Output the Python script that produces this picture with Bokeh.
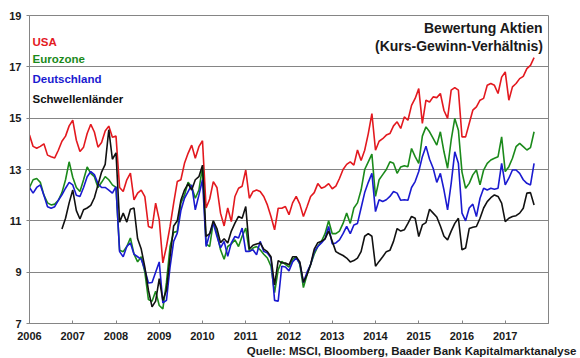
import numpy as np
import pandas as pd
from bokeh.plotting import figure
from bokeh.models import FixedTicker, Label, Title, Range1d
from bokeh.embed import file_html
from bokeh.resources import INLINE

# ---------------- data (monthly P/E ratios, Jan 2006 - Sep 2017) ----------------
months = pd.date_range("2006-01-01", "2017-09-01", freq="MS")

usa = [14.34, 13.9, 13.83, 13.9, 14.0, 13.56, 13.5, 13.45, 13.75, 14.1, 14.3, 14.7,
       14.92, 14.14, 13.7, 13.87, 14.4, 14.76, 14.46, 13.87, 14.05, 14.5, 14.69, 14.26,
       14.3, 12.3, 12.14, 12.6, 12.86, 11.82, 12.08, 12.2, 11.94, 10.78, 10.72, 11.69,
       11.04, 9.36, 10.0, 10.78, 11.69, 12.53, 12.6, 13.24, 13.63, 13.95, 13.44, 13.89,
       14.12, 11.5, 11.85, 12.53, 12.3, 11.3, 10.8, 11.5, 10.97, 11.95, 12.27, 12.35,
       12.98, 11.88, 12.14, 12.2, 12.14, 11.95, 11.62, 11.17, 10.65, 11.49, 11.49, 11.56,
       11.24, 11.7, 11.95, 11.65, 11.17, 11.55, 11.95, 12.1, 12.45, 12.27, 12.33, 12.45,
       12.25, 12.35, 12.65, 13.0, 13.2, 13.3, 13.17, 13.76, 13.35, 13.75, 14.4, 15.18,
       13.75, 14.1, 14.2, 14.34, 14.4, 14.7, 14.86, 14.6, 15.05, 14.92, 15.5, 15.77,
       16.15, 14.8, 15.7, 15.63, 15.83, 15.8, 15.96, 15.3, 14.99, 16.09, 16.19, 16.09,
       14.27, 14.27, 14.79, 15.31, 15.44, 15.70, 15.77, 16.28, 16.35, 16.28, 15.96, 16.6,
       16.8, 15.7, 16.22, 16.35, 16.54, 16.63, 16.93, 17.06, 17.36]

eurozone = [12.3, 12.6, 12.65, 12.5, 12.0, 11.7, 11.62, 11.65, 11.8, 12.1, 12.6, 13.3,
            12.7, 12.3, 12.14, 12.6, 13.1, 12.85, 12.72, 12.3, 12.5, 12.72, 12.6, 12.4,
            12.3, 9.85, 9.8, 10.0, 10.33, 9.7, 9.4, 9.6, 9.0, 7.93, 7.87, 8.26,
            7.7, 7.57, 8.6, 10.0, 10.55, 10.59, 11.7, 12.0, 12.5, 12.33, 11.88, 12.2,
            13.1, 10.1, 10.0, 10.97, 10.5, 9.87, 9.5, 10.0, 10.1, 10.26, 10.0, 10.4,
            10.72, 9.81, 9.94, 10.0, 9.87, 9.7, 9.55, 9.23, 8.2, 9.1, 9.42, 9.3,
            9.2, 9.5, 9.6, 9.3, 8.4, 8.9, 9.3, 9.7, 10.0, 10.2, 10.5, 11.0,
            10.5, 10.5, 10.6, 10.9, 11.3, 10.9, 11.5, 11.7, 12.2, 13.0, 13.3, 13.6,
            11.95, 12.6, 12.8, 13.0, 13.3, 13.24, 12.85, 13.1, 13.15, 13.11, 13.82, 13.5,
            13.24, 14.3, 14.66, 14.47, 14.21, 13.95, 14.47, 13.69, 13.05, 14.15, 14.99, 14.53,
            12.9, 12.27, 12.46, 12.79, 12.98, 12.4, 12.98, 13.24, 13.37, 13.44, 13.5, 14.27,
            12.92, 13.11, 13.44, 13.89, 14.02, 13.89, 13.76, 13.85, 14.47]

deutschland = [12.3, 12.08, 12.3, 12.4, 12.0, 11.55, 11.49, 11.55, 11.8, 12.01, 12.27, 12.5,
               12.4, 12.0, 11.95, 12.3, 12.72, 12.92, 12.8, 12.45, 12.3, 12.3, 12.2, 12.08,
               12.33, 9.8, 9.6, 10.0, 10.14, 9.7, 9.6, 9.5, 9.1, 8.58, 8.6, 9.0,
               9.4, 7.8, 7.9, 9.2, 10.2, 10.52, 11.4, 11.88, 12.14, 12.4, 11.43, 12.0,
               12.6, 10.0, 10.5, 10.91, 10.4, 9.95, 10.2, 9.62, 10.14, 10.39, 10.33, 10.72,
               9.81, 9.81, 9.87, 9.68, 10.2, 9.81, 9.75, 9.55, 7.9, 7.87, 9.23, 9.2,
               9.05, 9.4, 9.55, 9.35, 8.6, 9.0, 9.3, 9.8, 10.0, 10.14, 10.3, 10.78,
               10.1, 10.14, 10.26, 10.5, 10.78, 10.5, 10.84, 10.9, 11.5, 12.1, 12.5, 12.85,
               11.36, 11.82, 11.75, 11.82, 11.95, 12.14, 12.08, 11.8, 11.82, 11.8, 12.3, 12.53,
               12.92, 13.5, 13.91, 13.4, 13.05, 12.5, 12.85, 12.2, 11.43, 12.46, 13.69, 13.24,
               11.3, 11.0, 11.5, 11.65, 11.17, 11.88, 12.27, 12.2, 12.27, 12.23, 12.27, 13.24,
               12.4, 12.66, 12.98, 12.98, 12.85, 12.6, 12.46, 12.4, 13.24]

# Emerging markets series starts in October 2006
schwellen_start = 9
schwellen = [10.68, 11.1, 11.7,
             12.2, 11.4, 11.07, 11.43, 11.5, 11.6, 11.9, 12.4, 12.9, 13.2, 14.55, 13.4,
             13.65, 10.95, 11.3, 10.95, 11.45, 11.5, 10.3, 9.9, 9.2, 8.3, 7.65, 7.87,
             8.75, 7.9, 8.3, 9.6, 10.8, 11.0, 11.8, 12.2, 12.45, 12.2, 12.6, 12.72,
             13.17, 10.39, 10.5, 11.0, 10.7, 10.15, 10.3, 10.14, 10.6, 10.91, 11.17, 11.1,
             11.56, 9.9, 10.05, 10.1, 10.14, 9.9, 9.8, 9.6, 8.5, 9.45, 9.36, 9.36,
             9.29, 9.6, 9.6, 9.4, 8.6, 8.9, 9.3, 9.9, 10.15, 10.2, 10.3, 10.6,
             10.2, 9.8, 9.72, 9.65, 9.55, 9.4, 9.45, 9.55, 9.8, 10.4, 10.5, 10.4,
             9.23, 9.42, 9.6, 9.8, 9.85, 10.2, 10.7, 10.6, 10.65, 10.9, 11.17, 11.1,
             10.39, 10.84, 10.93, 11.45, 11.3, 11.15, 10.8, 10.4, 10.26, 10.6, 10.9, 11.1,
             9.87, 9.94, 10.7, 10.75, 10.78, 11.1, 11.5, 11.75, 11.9, 12.01, 11.95, 11.69,
             10.97, 11.1, 11.17, 11.2, 11.3, 11.49, 12.08, 12.1, 11.62]

series_names = ["USA", "Eurozone", "Deutschland", "Schwellenländer"]
series_colors = ["#e3191f", "#1b8a1b", "#1a1ad0", "#111111"]

year_ticks = list(range(2006, 2019))
year_labels = ["2006", "2007", "2008", "2009", "2010", "2011", "2012",
               "2013", "2014", "2015", "2016", "2017", ""]
y_ticks = [7, 9, 11, 13, 15, 17, 19]

title_lines = ["Bewertung Aktien", "(Kurs-Gewinn-Verhältnis)"]
source_text = "Quelle: MSCI, Bloomberg, Baader Bank Kapitalmarktanalyse"

# decimal year position for each month
xdec = np.asarray(months.year + (months.month - 1) / 12.0, dtype=float)

FONT = "Liberation Sans"
GRID = "#858585"
TXT = "#1a1a1a"

p = figure(width=580, height=358, output_backend="svg", toolbar_location=None,
           x_range=Range1d(2006, 2018), y_range=Range1d(7, 19),
           min_border_left=29, min_border_right=32, min_border_top=15,
           min_border_bottom=35)
p.background_fill_color = "white"
p.border_fill_color = "white"
p.outline_line_color = GRID
p.outline_line_width = 1

# axes
p.xaxis.ticker = FixedTicker(ticks=year_ticks)
p.xaxis.major_label_overrides = {t: l for t, l in zip(year_ticks, year_labels)}
p.yaxis.ticker = FixedTicker(ticks=y_ticks)
for ax in (p.xaxis, p.yaxis):
    ax.axis_line_color = GRID
    ax.major_tick_line_color = GRID
    ax.minor_tick_line_color = None
    ax.major_label_text_font = FONT
    ax.major_label_text_font_style = "bold"
    ax.major_label_text_font_size = "11px"
    ax.major_label_text_color = TXT
p.xaxis.major_tick_in = 3
p.xaxis.major_tick_out = 0
p.xaxis.major_label_standoff = 8
p.yaxis.major_tick_in = 0
p.yaxis.major_tick_out = 3
p.yaxis.major_label_standoff = 5

p.xgrid.grid_line_color = None
p.ygrid.ticker = FixedTicker(ticks=y_ticks)
p.ygrid.grid_line_color = GRID
p.ygrid.grid_line_width = 1

# lines
all_series = [usa, eurozone, deutschland]
for vals, col in zip(all_series, series_colors[:3]):
    p.line(xdec, vals, line_color=col, line_width=1.6)
p.line(xdec[schwellen_start:], schwellen, line_color=series_colors[3], line_width=1.6)

# legend texts (coloured labels, upper left)
legend_y = [17.96, 17.31, 16.53, 15.76]
for name, col, yy in zip(series_names, series_colors, legend_y):
    p.add_layout(Label(x=2006, y=yy, x_offset=3, text=name, text_color=col,
                       text_font=FONT, text_font_style="bold", text_font_size="11.5px",
                       text_baseline="middle", text_align="left"))

# chart title (upper right, inside frame)
for line, yy in zip(title_lines, [18.51, 17.83]):
    p.add_layout(Label(x=2018, y=yy, x_offset=-5.5, text=line, text_color=TXT,
                       text_font=FONT, text_font_style="bold", text_font_size="14px",
                       text_baseline="middle", text_align="right"))

# source line below the axis
p.add_layout(Title(text=source_text, align="right", offset=-28, standoff=0,
                   text_font=FONT, text_font_style="bold", text_font_size="11.5px",
                   text_color=TXT), "below")

open("out.html", "w").write(file_html(p, INLINE))
